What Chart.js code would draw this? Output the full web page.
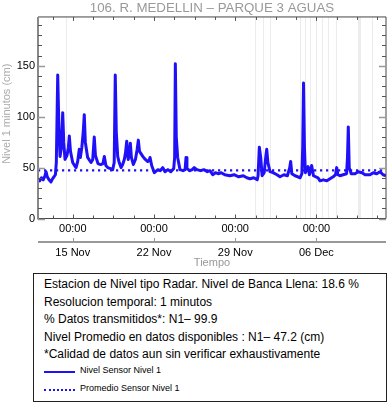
<!DOCTYPE html>
<html>
<head>
  <meta charset="UTF-8">
  <title>106. R. MEDELLIN - PARQUE 3 AGUAS</title>
  <script src="https://cdn.jsdelivr.net/npm/chart.js"></script>
  <style>
    body { margin: 0; background: #fff; font-family: "Liberation Sans", Arial, sans-serif; }
    #wrap { position: relative; width: 388px; height: 404px; overflow: hidden; }
    #grafico { position: absolute; left: 0; top: 0; width: 388px; height: 272px; }
    #caja {
      position: absolute; left: 33px; top: 273px; width: 354px; height: 129px;
      border: 1px solid #222; box-sizing: border-box; padding: 2px 0 0 10px;
      font-size: 12px; line-height: 17.5px; color: #000;
    }
    .ley { font-size: 9px; line-height: 18.5px; display: flex; align-items: center; }
    .ley:first-of-type { }
    .muestra { display: inline-block; width: 31px; height: 0; margin-right: 5px; margin-top: 4px; }
  </style>
</head>
<body>
<div id="wrap">
  <div id="grafico"><canvas id="nivelChart" width="388" height="272"></canvas></div>
  <div id="caja"></div>
</div>
<script>
  // dias desde 12 Nov 00:00
  const dias = [
    0.00, 0.15, 0.30, 0.45, 0.60, 0.69, 0.80, 0.95, 1.12, 1.25, 1.38, 1.50, 1.58, 1.70, 1.80, 1.90,
    2.02, 2.13, 2.22, 2.33, 2.50, 2.62, 2.70, 2.80, 2.99, 3.15, 3.28, 3.42, 3.56, 3.65, 3.78, 3.90,
    3.99, 4.08, 4.28, 4.45, 4.57, 4.72, 4.85, 4.95, 5.17, 5.40, 5.60, 5.72, 5.85, 6.01, 6.25, 6.44,
    6.57, 6.66, 6.75, 6.87, 7.00, 7.16, 7.30, 7.44, 7.55, 7.65, 7.72, 7.78, 7.88, 7.96, 8.05, 8.22,
    8.40, 8.55, 8.65, 8.75, 9.03, 9.25, 9.46, 9.58, 9.66, 9.80, 10.03, 10.34, 10.55, 10.75, 10.95, 11.20,
    11.45, 11.70, 11.78, 11.84, 11.92, 12.04, 12.24, 12.50, 12.68, 12.76, 12.84, 13.10, 13.30, 13.47, 13.70, 14.00,
    14.30, 14.60, 14.83, 15.06, 15.30, 15.52, 15.80, 16.10, 16.55, 16.90, 17.30, 17.70, 18.00, 18.28, 18.60, 18.90,
    18.97, 19.08, 19.20, 19.32, 19.50, 19.65, 19.72, 19.82, 20.00, 20.26, 20.60, 20.86, 21.20, 21.50, 21.70, 21.78,
    21.88, 22.16, 22.40, 22.59, 22.75, 22.82, 22.89, 22.97, 23.05, 23.28, 23.40, 23.59, 23.75, 24.14, 24.31, 24.60,
    24.90, 25.17, 25.45, 25.65, 25.75, 25.85, 26.03, 26.30, 26.60, 26.68, 26.75, 26.83, 27.00, 27.33, 27.60, 27.93,
    28.20, 28.62, 28.90, 29.20, 29.48, 29.75, 30.00
  ];
  const nivel = [
    39, 37, 40, 38, 42, 46, 41, 38, 36, 39, 41, 43, 55, 141, 90, 61,
    70, 104, 75, 58, 62, 70, 81, 66, 55, 52, 50, 56, 68, 60, 70, 85,
    102, 75, 60, 57, 55, 58, 80, 62, 54, 53, 54, 61, 52, 50, 49, 48,
    55, 141, 85, 61, 55, 50, 53, 58, 65, 76, 62, 58, 65, 74, 60, 53,
    58, 68, 77, 66, 61, 58, 56, 57, 60, 52, 45, 48, 47, 50, 46, 48,
    46, 49, 60, 152, 80, 60, 48, 47, 48, 60, 49, 47, 48, 50, 48, 47,
    48, 46, 47, 43, 45, 44, 45, 43, 42, 43, 41, 42, 40, 39, 40, 38,
    42, 70, 60, 42, 45, 62, 68, 55, 46, 45, 43, 41, 43, 42, 50, 56,
    44, 42, 41, 40, 44, 70, 133, 70, 45, 51, 43, 52, 42, 40, 37, 38,
    37, 39, 41, 43, 50, 43, 42, 43, 44, 60, 90, 50, 44, 44, 46, 45,
    43, 43, 45, 44, 46, 43, 42
  ];
  const promedio = 47.2;
  // huecos de datos (inicio, fin) en dias
  const huecos = [
    [2.45, 2.49], [18.69, 18.73], [19.38, 19.42], [20.04, 20.08], [22.57, 22.61], [23.04, 23.08],
    [23.47, 23.51], [23.95, 23.99], [24.46, 24.50], [25.01, 25.05], [25.73, 25.77], [27.55, 27.78], [28.75, 28.79]
  ];
  const diasMayores = [3, 10, 17, 24];
  const horaLabels = ["00:00", "00:00", "00:00", "00:00"];
  const fechaLabels = ["15 Nov", "22 Nov", "29 Nov", "06 Dec"];
  const yTicks = [0, 50, 100, 150];
  const yMax = 198;
  const yTitulo = "Nivel 1 minutos (cm)";

  const textos = [
    "Estacion de Nivel tipo Radar. Nivel de Banca Llena: 18.6 %",
    "Resolucion temporal: 1 minutos",
    "% Datos transmitidos*: N1\u2013 99.9",
    "Nivel Promedio en datos disponibles : N1\u2013 " + promedio.toFixed(1) + " (cm)",
    "*Calidad de datos aun sin verificar exhaustivamente"
  ];

  const azul = "#2010f8";

  const marcoPlugin = {
    id: "marco",
    beforeDatasetsDraw(chart) {
      const { ctx, chartArea: a, scales: { x } } = chart;
      ctx.save();
      ctx.fillStyle = "#ececec";
      huecos.forEach(([i, f]) => {
        const x0 = x.getPixelForValue(i), x1 = x.getPixelForValue(f);
        ctx.fillRect(Math.round(x0), a.top, Math.max(1, Math.round(x1 - x0)), a.bottom - a.top);
      });
      ctx.restore();
    },
    afterDraw(chart) {
      const { ctx, chartArea: a, scales: { x, y } } = chart;
      ctx.save();
      // titulo eje y
      ctx.fillStyle = "#aaa";
      ctx.font = "11px 'Liberation Sans'";
      ctx.textAlign = "center";
      ctx.textBaseline = "middle";
      ctx.translate(7, (a.top + a.bottom) / 2 - 4);
      ctx.rotate(-Math.PI / 2);
      ctx.fillText(yTitulo, 0, 0);
      ctx.setTransform(1, 0, 0, 1, 0, 0);

      ctx.strokeStyle = "#444";
      ctx.lineWidth = 1;
      ctx.beginPath();
      ctx.moveTo(a.left, a.top); ctx.lineTo(a.right, a.top);
      ctx.lineTo(a.right, a.bottom); ctx.lineTo(a.left, a.bottom);
      ctx.stroke();
      ctx.strokeStyle = "#888";
      ctx.lineWidth = 2;
      ctx.beginPath();
      ctx.moveTo(a.left, a.top); ctx.lineTo(a.left, a.bottom + 1);
      ctx.stroke();
      // marcas x
      ctx.strokeStyle = "#555";
      ctx.lineWidth = 1;
      ctx.beginPath();
      x.ticks.forEach(t => {
        const px = Math.round(x.getPixelForValue(t.value)) + 0.5;
        const l = diasMayores.includes(t.value) ? 4 : 3;
        ctx.moveTo(px, a.bottom); ctx.lineTo(px, a.bottom - l);
        ctx.moveTo(px, a.top); ctx.lineTo(px, a.top + l);
      });
      ctx.stroke();
      // marcas y
      y.ticks.forEach(t => {
        const py = Math.round(y.getPixelForValue(t.value)) + 0.5;
        const mayor = yTicks.includes(t.value);
        const l = mayor ? 7 : 4;
        ctx.strokeStyle = mayor ? "#999" : "#555";
        ctx.lineWidth = mayor ? 1.5 : 1;
        ctx.beginPath();
        ctx.moveTo(a.left, py); ctx.lineTo(a.left + l, py);
        ctx.moveTo(a.right, py); ctx.lineTo(a.right - l, py);
        ctx.stroke();
      });
      // separador entre horas y fechas
      const ys = 242;
      ctx.strokeStyle = "#999";
      ctx.lineWidth = 2;
      ctx.beginPath();
      ctx.moveTo(a.left, ys); ctx.lineTo(a.right, ys);
      ctx.stroke();
      ctx.lineWidth = 1;
      ctx.beginPath();
      diasMayores.forEach(d => {
        const px = Math.round(x.getPixelForValue(d)) + 0.5;
        ctx.moveTo(px, ys); ctx.lineTo(px, ys - 4);
      });
      ctx.stroke();
      ctx.restore();
    }
  };

  const ctx = document.getElementById("nivelChart").getContext("2d");
  const chart = new Chart(ctx, {
    type: "line",
    data: {
      datasets: [
        {
          label: "Nivel Sensor Nivel 1",
          data: dias.map((d, i) => ({ x: d, y: nivel[i] })),
          borderColor: azul,
          borderWidth: 3,
          pointRadius: 0,
          tension: 0,
          borderJoinStyle: "round"
        },
        {
          label: "Promedio Sensor Nivel 1",
          data: [{ x: 0, y: promedio }, { x: 30, y: promedio }],
          borderColor: azul,
          borderWidth: 2.2,
          borderDash: [2.2, 3.8],
          pointRadius: 0
        }
      ]
    },
    options: {
      responsive: false,
      animation: false,
      layout: { padding: { left: 0, right: 2, top: 0, bottom: 0 } },
      plugins: {
        legend: { display: false },
        tooltip: { enabled: false },
        title: {
          display: true,
          fullSize: false,
          text: "106. R. MEDELLIN \u2013 PARQUE 3 AGUAS",
          color: "#999",
          font: { family: "Liberation Sans", size: 13.3, weight: "normal" },
          padding: { top: 0, bottom: 1.0 }
        }
      },
      scales: {
        x: {
          type: "linear",
          min: 0,
          max: 30,
          grid: { display: false, drawTicks: false },
          border: { display: false },
          afterBuildTicks: (s) => {
            const t = [];
            for (let v = 1.25; v < 30; v += 1.75) t.push({ value: v });
            s.ticks = t;
          },
          afterFit: (s) => { s.height = 53.5; },
          ticks: {
            autoSkip: false,
            maxRotation: 0,
            padding: -1.5,
            color: "#000",
            font: { family: "Liberation Sans", size: 11, lineHeight: "23.7px" },
            callback: (v) => {
              const i = diasMayores.indexOf(v);
              return i >= 0 ? [horaLabels[i], fechaLabels[i]] : "";
            }
          },
          title: {
            display: true,
            text: "Tiempo",
            color: "#999",
            font: { family: "Liberation Sans", size: 11 },
            padding: { top: 0, bottom: 2.4 }
          }
        },
        y: {
          min: 0,
          max: yMax,
          grid: { display: false, drawTicks: false },
          border: { display: false },
          afterBuildTicks: (s) => {
            const t = [];
            for (let v = 0; v < yMax; v += 10) t.push({ value: v });
            s.ticks = t;
          },
          afterFit: (s) => { s.width = 38; },
          ticks: {
            autoSkip: false,
            padding: 3,
            color: "#000",
            font: { family: "Liberation Sans", size: 11 },
            callback: (v) => yTicks.includes(v) ? String(v) : ""
          }
        }
      }
    },
    plugins: [marcoPlugin]
  });

  // caja de informacion y leyenda
  const caja = document.getElementById("caja");
  textos.forEach(t => {
    const d = document.createElement("div");
    d.textContent = t;
    caja.appendChild(d);
  });
  chart.data.datasets.forEach((ds, i) => {
    const fila = document.createElement("div");
    fila.className = "ley";
    fila.style.marginTop = i === 0 ? "-3px" : "0";
    const m = document.createElement("span");
    m.className = "muestra";
    m.style.borderBottom = (i === 0 ? "2px solid " : "2px dotted ") + ds.borderColor;
    const txt = document.createElement("span");
    txt.textContent = ds.label;
    fila.appendChild(m);
    fila.appendChild(txt);
    caja.appendChild(fila);
  });
</script>
</body>
</html>
